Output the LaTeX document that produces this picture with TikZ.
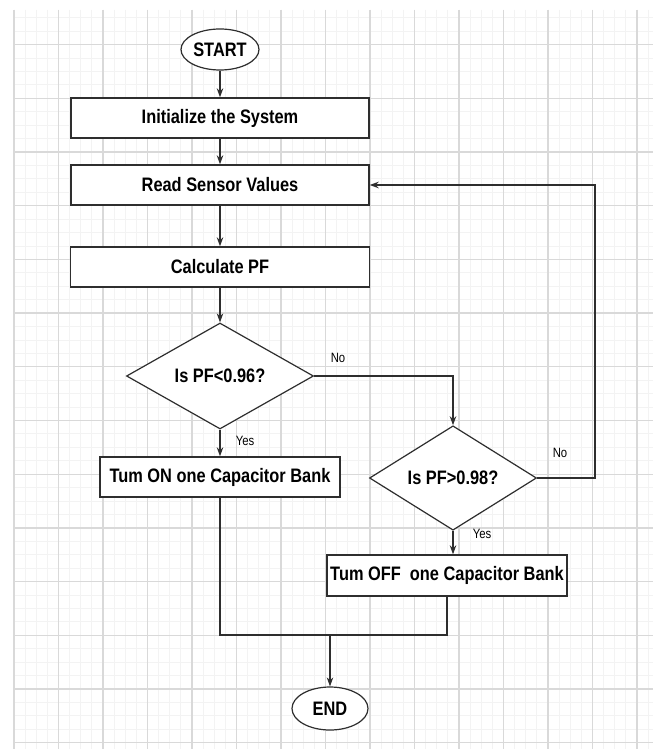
\documentclass[tikz,border=0pt]{standalone}
\usepackage{fontspec}
\usetikzlibrary{shapes.geometric,arrows.meta}
\newfontfamily\chartfont[FakeStretch=0.84]{Liberation Sans}
\definecolor{gridmajor}{HTML}{D9D9D9}
\definecolor{gridminor}{HTML}{F3F3F3}
\definecolor{linegray}{HTML}{2E2E2E}

\begin{document}
\begin{tikzpicture}[x=1pt,y=-1pt,
        box/.style={draw=linegray,line width=1.4pt,fill=white,rectangle,minimum height=40pt,inner sep=0pt,font=\chartfont\bfseries\fontsize{19.5}{21}\selectfont},
        term/.style={draw=linegray,line width=1.2pt,fill=white,ellipse,inner sep=0pt,font=\chartfont\bfseries\fontsize{19.5}{21}\selectfont},
        test/.style={draw=linegray,line width=1.2pt,fill=white,diamond,inner sep=0pt,font=\chartfont\bfseries\fontsize{19.5}{21}\selectfont},
        lbl/.style={inner sep=0pt,font=\chartfont\fontsize{13.5}{15}\selectfont},
        flow/.style={draw=linegray,line width=1.2pt},
        arr/.style={flow,-{Stealth[length=9pt,width=6.5pt]}}]
        \fill[white] (0,0) rectangle (653,749);
        \useasboundingbox (0,0) rectangle (653,749);
        % background grid
        \foreach \i in {0,...,57} \draw[gridminor,line width=1pt] ({14+11.125*\i},10) -- ({14+11.125*\i},749);
        \foreach \j in {0,...,54} \draw[gridminor,line width=1pt] (14,{17.8+13.425*\j}) -- (653,{17.8+13.425*\j});
        \foreach \i in {0,...,14} \draw[gridmajor,line width=1.3pt] ({14+44.5*\i},10) -- ({14+44.5*\i},749);
        \foreach \j in {0,...,13} \draw[gridmajor,line width=1.3pt] (14,{44.6+53.7*\j}) -- (653,{44.6+53.7*\j});

        \node[term,minimum width=78pt,minimum height=41pt] (start) at (220,49.5) {START};
        \node[box,minimum width=298pt] (init) at (220,118) {Initialize the System};
        \node[box,minimum width=298pt] (read) at (220,185) {Read Sensor Values};
        \node[box,minimum width=299pt] (calc) at (220,267) {Calculate PF};
        \node[test,minimum width=187pt,minimum height=106pt] (test1) at (220,376) {Is PF<0.96?};
        \node[box,minimum width=240pt] (on) at (220,477) {Tum ON one Capacitor Bank};
        \node[test,minimum width=167pt,minimum height=90pt] (test2) at (453,478) {Is PF>0.98?};
        \node[box,minimum width=240pt,minimum height=41pt] (off) at (447,575.5) {Tum OFF\ \ one Capacitor Bank};
        \node[term,minimum width=76pt,minimum height=43pt] (end) at (330,708.5) {END};
        \coordinate (loop) at (595,185);
        \coordinate (join) at (330,635);

        \draw[arr] (start) -- (init);
        \draw[arr] (init) -- (read);
        \draw[arr] (read) -- (calc);
        \draw[arr] (calc) -- (test1);
        \draw[arr] (test1.east) -| (test2.north);
        \draw[arr] (test1) -- (on);
        \draw[arr] (test2.south) -- (test2.south |- off.north);
        \draw[arr] (test2.east) -| (loop) -- (read.east);
        \draw[flow] (on.south) |- (join);
        \draw[flow] (off.south) |- (join);
        \draw[arr] (join) -- (end);

        \node[lbl] (no1) at (338,358) {No};
        \node[lbl] (yes1) at (245,441) {Yes};
        \node[lbl] (no2) at (560,453) {No};
        \node[lbl] (yes2) at (482,534) {Yes};
    \end{tikzpicture}
\end{document}
